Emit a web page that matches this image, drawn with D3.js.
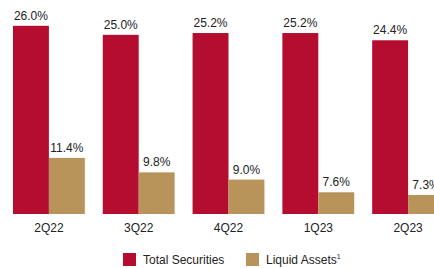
<!DOCTYPE html>
<html>
<head>
<meta charset="utf-8">
<script src="https://cdn.jsdelivr.net/npm/d3@7"></script>
<style>
  html, body { margin: 0; padding: 0; background: #fff; }
  svg { display: block; font-family: 'Liberation Sans', Arial, sans-serif; }
</style>
</head>
<body>
<div id="chart"></div>
<script>
const quarters = ['2Q22', '3Q22', '4Q22', '1Q23', '2Q23'];
const totalSecurities = [26.0, 25.0, 25.2, 25.2, 24.4];
const liquidAssets = [11.4, 9.8, 9.0, 7.6, 7.3];
const seriesNames = ['Total Securities', 'Liquid Assets'];

const width = 434, height = 268;
const colors = { total: '#B50D2F', liquid: '#B8935A', text: '#222' };

const svg = d3.select('#chart').append('svg')
    .attr('width', width)
    .attr('height', height);

const x = d3.scaleBand()
    .domain(quarters)
    .range([4, 453])
    .paddingInner(0.2)
    .paddingOuter(0.1);

const xSub = d3.scaleBand()
    .domain(['total', 'liquid'])
    .range([0, x.bandwidth()]);

// axis is truncated in the original, bars start above zero
const y = d3.scaleLinear()
    .domain([5.2, 26])
    .range([214, 25.8]);

const rows = quarters.map((q, i) => ({ q, total: totalSecurities[i], liquid: liquidAssets[i] }));

const groups = svg.append('g').selectAll('g')
    .data(rows)
    .join('g')
    .attr('transform', d => `translate(${x(d.q)},0)`);

['total', 'liquid'].forEach(key => {
    groups.append('rect')
        .attr('x', xSub(key))
        .attr('y', d => y(d[key]))
        .attr('width', xSub.bandwidth())
        .attr('height', d => y.range()[0] - y(d[key]))
        .attr('fill', colors[key]);

    groups.append('text')
        .attr('x', xSub(key) + xSub.bandwidth() / 2)
        .attr('y', d => y(d[key]) - 6)
        .attr('text-anchor', 'middle')
        .attr('font-size', 12)
        .attr('fill', colors.text)
        .text(d => d[key].toFixed(1) + '%');
});

// category labels
const xAxis = d3.axisBottom(x).tickSize(0).tickPadding(0);
const axisG = svg.append('g')
    .attr('transform', 'translate(0,222)')
    .call(xAxis);
axisG.select('.domain').remove();
axisG.selectAll('text')
    .attr('font-size', 12)
    .attr('font-family', "'Liberation Sans', Arial, sans-serif")
    .attr('fill', colors.text)
    .attr('dy', '0.85em');

// legend
const legend = svg.append('g');
const legendItems = [
    { name: seriesNames[0], color: colors.total, x: 123, sup: false },
    { name: seriesNames[1], color: colors.liquid, x: 246, sup: true }
];
legendItems.forEach(it => {
    legend.append('rect')
        .attr('x', it.x).attr('y', 253)
        .attr('width', 13).attr('height', 13)
        .attr('fill', it.color);
    const t = legend.append('text')
        .attr('x', it.x + 20).attr('y', 264)
        .attr('font-size', 12)
        .attr('fill', colors.text)
        .text(it.name);
    if (it.sup) {
        t.append('tspan')
            .attr('font-size', 7)
            .attr('dy', -5)
            .text('1');
    }
});
</script>
</body>
</html>
